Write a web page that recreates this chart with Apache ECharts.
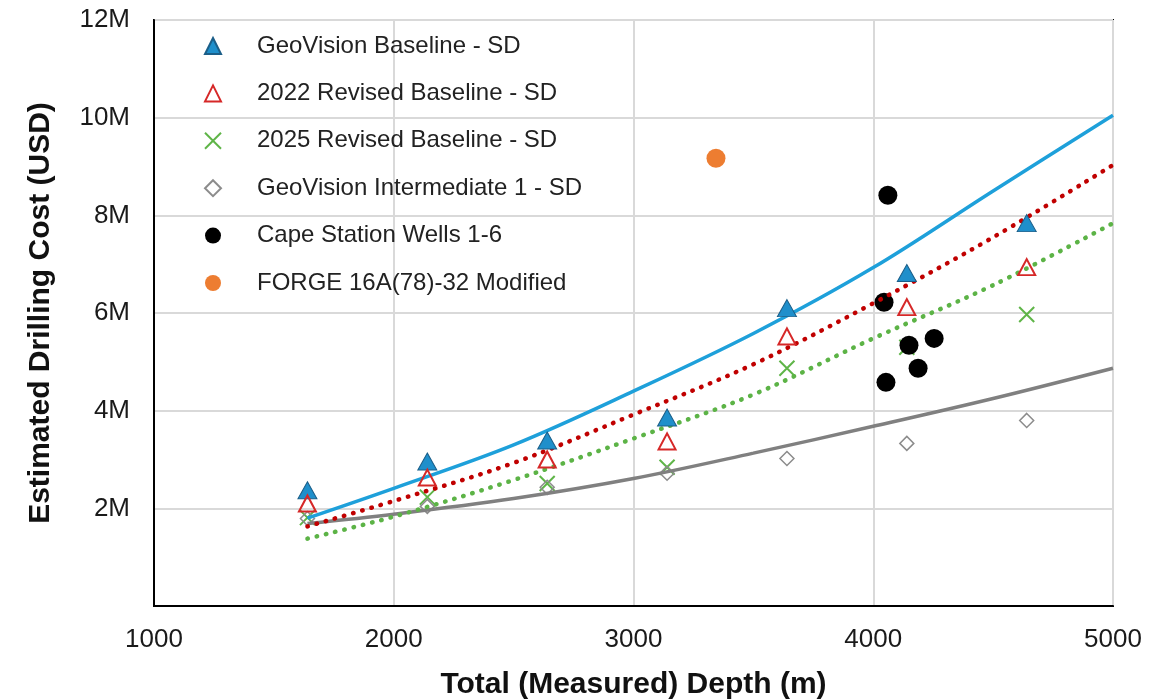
<!DOCTYPE html>
<html>
<head>
<meta charset="utf-8">
<script src="https://cdn.jsdelivr.net/npm/echarts@6/dist/echarts.min.js"></script>
<style>
html,body{margin:0;padding:0;background:#fff;}
#chart{width:1173px;height:700px;}
</style>
</head>
<body>
<div id="chart"></div>
<script>
// Depths (m) of the scenario points
const depths = [1640, 2140, 2640, 3140, 3640, 4140, 4640];
// Estimated drilling cost (million USD)
const geoVisionBaseline = [2.37, 2.96, 3.39, 3.86, 6.10, 6.82, 7.84];
const revised2022 = [2.10, 2.63, 3.00, 3.37, 5.52, 6.12, 6.94];
const revised2025 = [1.81, 2.23, 2.51, 2.84, 4.87, 5.30, 5.97];
const geoVisionInt1 = [1.79, 2.04, 2.43, 2.72, 3.02, 3.33, 3.80];

const capeDepths = [4061, 4045, 4149, 4254, 4187, 4053];
const capeCosts = [8.41, 6.22, 5.34, 5.48, 4.87, 4.58];

const forgeDepths = [3344];
const forgeCosts = [9.17];

// Trendlines
const trendDepths = [1640, 2000, 2500, 3000, 3500, 4000, 4500, 5000];
const trendBaseline = [1.80, 2.41, 3.30, 4.40, 5.58, 6.93, 8.50, 10.05];
const trend2022 = [1.63, 2.15, 2.93, 3.92, 4.95, 6.20, 7.55, 9.03];
const trend2025 = [1.38, 1.83, 2.58, 3.43, 4.33, 5.48, 6.57, 7.84];
const trendInt1 = [1.69, 1.88, 2.20, 2.61, 3.13, 3.68, 4.25, 4.87];

const xTicks = [1000, 2000, 3000, 4000, 5000];
const yTickLabels = ['', '2M', '4M', '6M', '8M', '10M', '12M'];

const pairs = (xs, ys) => xs.map((x, i) => [x, ys[i]]);
const FONT = 'Liberation Sans, Arial, sans-serif';

const crossPath = 'path://M0,0L10,10M10,0L0,10';

const chart = echarts.init(document.getElementById('chart'), null, {renderer: 'canvas'});

const trendLine = (data, color, dotted) => ({
  type: 'line',
  data: data,
  smooth: 0.35,
  symbol: 'none',
  silent: true,
  z: 3,
  lineStyle: dotted
    ? {color: color, width: 4.5, type: [0.5, 9], cap: 'round'}
    : {color: color, width: 3.5, type: 'solid'}
});

chart.setOption({
  animation: false,
  backgroundColor: '#fff',
  grid: {
    left: 154, right: 60, top: 20, bottom: 94,
    show: true, borderColor: '#000', borderWidth: 2, containLabel: false,
    outerBoundsMode: 'none'
  },
  legend: {
    left: 199, top: 29,
    orient: 'vertical',
    itemWidth: 16, itemHeight: 16,
    itemGap: 23.4,
    data: ['GeoVision Baseline - SD', '2022 Revised Baseline - SD', '2025 Revised Baseline - SD',
           'GeoVision Intermediate 1 - SD', 'Cape Station Wells 1-6', 'FORGE 16A(78)-32 Modified'],
    textStyle: {fontFamily: FONT, fontSize: 24, color: '#222', lineHeight: 24, padding: [0, 0, 0, 31]},
    selectedMode: false
  },
  xAxis: {
    type: 'value', min: 1000, max: 5000, interval: 1000,
    name: 'Total (Measured) Depth (m)',
    nameLocation: 'middle', nameGap: 64,
    nameTextStyle: {fontFamily: FONT, fontSize: 30, fontWeight: 'bold', color: '#111'},
    axisLine: {show: true, lineStyle: {color: '#000', width: 2}},
    axisTick: {show: false},
    axisLabel: {
      fontFamily: FONT, fontSize: 26, color: '#1a1a1a', margin: 21,
      formatter: v => xTicks.includes(v) ? String(v) : ''
    },
    splitLine: {show: true, lineStyle: {color: '#d9d9d9', width: 2}}
  },
  yAxis: {
    type: 'value', min: 0, max: 12, interval: 2,
    name: 'Estimated Drilling Cost (USD)',
    nameLocation: 'middle', nameGap: 98, nameRotate: 90,
    nameTextStyle: {fontFamily: FONT, fontSize: 30, fontWeight: 'bold', color: '#111'},
    axisLine: {show: true, lineStyle: {color: '#000', width: 2}},
    axisTick: {show: false},
    axisLabel: {
      fontFamily: FONT, fontSize: 26, color: '#1a1a1a', margin: 24,
      formatter: v => yTickLabels[Math.round(v / 2)] || ''
    },
    splitLine: {show: true, lineStyle: {color: '#d9d9d9', width: 2}}
  },
  series: [
    {
      name: 'GeoVision Baseline - SD', type: 'scatter', z: 4,
      data: pairs(depths, geoVisionBaseline),
      symbol: 'triangle', symbolSize: [19, 17],
      itemStyle: {color: '#1f8fcb', borderColor: '#1b5e88', borderWidth: 1, opacity: 1}
    },
    {
      name: '2022 Revised Baseline - SD', type: 'scatter', z: 4,
      data: pairs(depths, revised2022),
      symbol: 'triangle', symbolSize: [17, 16],
      itemStyle: {color: 'rgba(255,255,255,0)', borderColor: '#d62828', borderWidth: 2, opacity: 1}
    },
    {
      name: '2025 Revised Baseline - SD', type: 'scatter', z: 2,
      data: pairs(depths, revised2025),
      symbol: crossPath, symbolSize: 15,
      itemStyle: {color: 'rgba(255,255,255,0)', borderColor: '#5fb548', borderWidth: 2, opacity: 1}
    },
    {
      name: 'GeoVision Intermediate 1 - SD', type: 'scatter', z: 2,
      data: pairs(depths, geoVisionInt1),
      symbol: 'diamond', symbolSize: 14,
      itemStyle: {color: 'rgba(255,255,255,0)', borderColor: '#8c8c8c', borderWidth: 1.5, opacity: 1}
    },
    {
      name: 'Cape Station Wells 1-6', type: 'scatter', z: 2,
      data: pairs(capeDepths, capeCosts),
      symbol: 'circle', symbolSize: 19,
      itemStyle: {color: '#000', opacity: 1}
    },
    {
      name: 'FORGE 16A(78)-32 Modified', type: 'scatter', z: 2,
      data: pairs(forgeDepths, forgeCosts),
      symbol: 'circle', symbolSize: 19,
      itemStyle: {color: '#ed7d31', opacity: 1}
    },
    trendLine(pairs(trendDepths, trendInt1), '#808080', false),
    trendLine(pairs(trendDepths, trendBaseline), '#1ea0da', false),
    trendLine(pairs(trendDepths, trend2025), '#5cb346', true),
    trendLine(pairs(trendDepths, trend2022), '#c00000', true)
  ]
});
</script>
</body>
</html>
